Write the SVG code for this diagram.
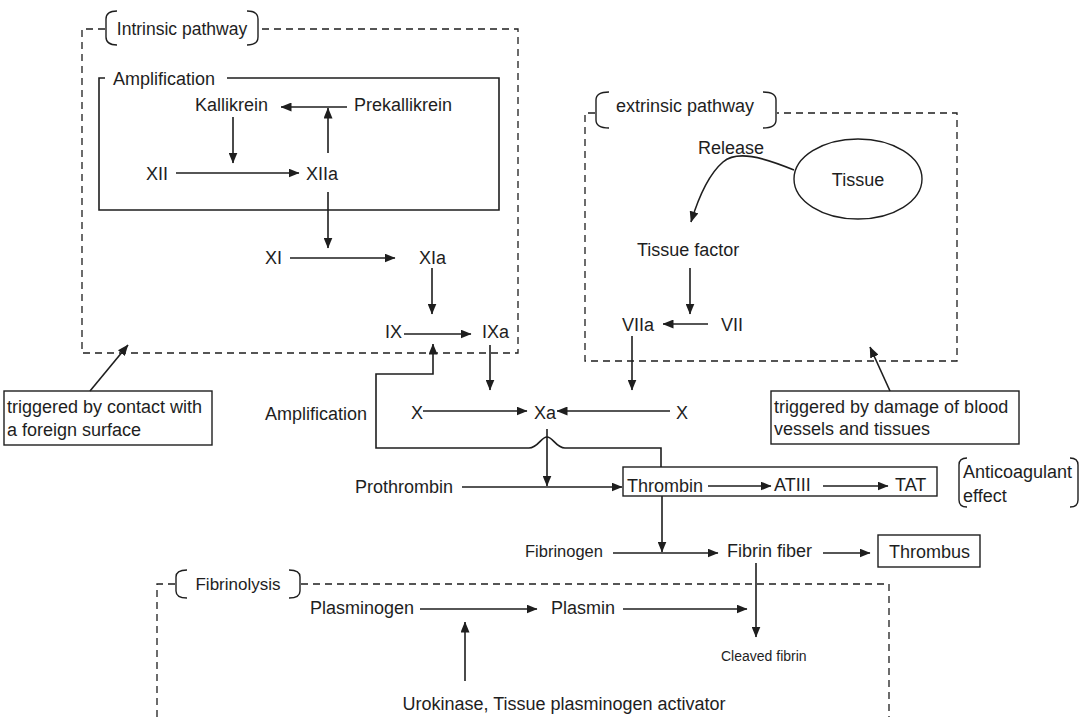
<svg xmlns="http://www.w3.org/2000/svg" width="1084" height="717" viewBox="0 0 1084 717">
  <defs>
    <marker id="ah" viewBox="0 0 11 9" refX="10.5" refY="4.5" markerWidth="11" markerHeight="9" orient="auto" markerUnits="userSpaceOnUse">
      <path d="M0,0 L11,4.5 L0,9 z" fill="#1e1e1e"/>
    </marker>
    <style>
      text { font-family: "Liberation Sans", Arial, Helvetica, sans-serif; font-size: 18px; fill: #1e1e1e; }
      .sm { font-size: 16.5px; }
      .xs { font-size: 14px; }
      .ln { fill: none; stroke: #1e1e1e; stroke-width: 1.6; }
      .ar { fill: none; stroke: #1e1e1e; stroke-width: 1.6; marker-end: url(#ah); }
      .dash { fill: none; stroke: #1e1e1e; stroke-width: 1.3; stroke-dasharray: 7 5; }
      .box { fill: #fff; stroke: #1e1e1e; stroke-width: 1.4; }
      .br { fill: none; stroke: #1e1e1e; stroke-width: 1.4; }
    </style>
  </defs>
  <rect width="1084" height="717" fill="#fff"/>

  <!-- Intrinsic pathway region -->
  <g id="intrinsic-region">
    <path class="dash" d="M105,29 L82,29 L82,353 L518,353 L518,29 L259,29"/>
    <path class="br" d="M117,11 Q106,11 106,19 L106,37 Q106,45 117,45"/>
    <path class="br" d="M247,11 Q258,11 258,19 L258,37 Q258,45 247,45"/>
    <text x="182" y="35" text-anchor="middle" style="font-size:17.5px">Intrinsic pathway</text>
  </g>

  <!-- Amplification loop box -->
  <g id="amplification-box">
    <path class="ln" d="M227,78 L499,78 L499,210 L99,210 L99,78 L105,78"/>
    <text x="113" y="85">Amplification</text>
  </g>

  <g id="kallikrein"><text x="195" y="111">Kallikrein</text></g>
  <g id="prekallikrein"><text x="354" y="111">Prekallikrein</text></g>
  <g id="xii"><text x="146" y="180">XII</text></g>
  <g id="xiia"><text x="306" y="180">XIIa</text></g>
  <g id="xi"><text x="265" y="264">XI</text></g>
  <g id="xia"><text x="419" y="264">XIa</text></g>
  <g id="ix"><text x="385" y="338">IX</text></g>
  <g id="ixa"><text x="482" y="338">IXa</text></g>

  <!-- Extrinsic pathway region -->
  <g id="extrinsic-region">
    <path class="dash" d="M595,113 L585,113 L585,361 L957,361 L957,113 L777,113"/>
    <path class="br" d="M609,92 Q596,92 596,100 L596,120 Q596,128 609,128"/>
    <path class="br" d="M763,92 Q776,92 776,100 L776,120 Q776,128 763,128"/>
    <text x="616" y="112">extrinsic pathway</text>
  </g>

  <g id="tissue">
    <ellipse cx="858" cy="179" rx="64" ry="40" fill="#fff" stroke="#1e1e1e" stroke-width="1.4"/>
    <text x="858" y="186" text-anchor="middle">Tissue</text>
  </g>
  <g id="release"><text x="698" y="154">Release</text></g>
  <g id="tissue-factor"><text x="637" y="256">Tissue factor</text></g>
  <g id="viia"><text x="622" y="331">VIIa</text></g>
  <g id="vii"><text x="721" y="331">VII</text></g>

  <!-- Trigger notes -->
  <g id="note-contact">
    <rect class="box" x="4" y="391" width="208" height="54"/>
    <text x="7" y="413">triggered by contact with</text>
    <text x="7" y="436">a foreign surface</text>
  </g>
  <g id="note-damage">
    <rect class="box" x="771" y="391" width="248" height="53"/>
    <text x="774" y="413">triggered by damage of blood</text>
    <text x="774" y="435">vessels and tissues</text>
  </g>

  <!-- Common pathway -->
  <g id="amplification-label"><text x="265" y="420">Amplification</text></g>
  <g id="x-left"><text x="411" y="419">X</text></g>
  <g id="xa"><text x="534" y="419">Xa</text></g>
  <g id="x-right"><text x="676" y="419">X</text></g>
  <g id="prothrombin"><text x="453" y="493" text-anchor="end">Prothrombin</text></g>

  <g id="thrombin-row">
    <rect class="box" x="623" y="467" width="314" height="29"/>
    <text x="627" y="492">Thrombin</text>
    <text x="774" y="491">ATIII</text>
    <text x="895" y="491">TAT</text>
  </g>

  <g id="anticoagulant">
    <path class="br" d="M967,458 Q959,458 959,465 L959,500 Q959,507 967,507"/>
    <path class="br" d="M1070,458 Q1078,458 1078,465 L1078,500 Q1078,507 1070,507"/>
    <text x="963" y="478">Anticoagulant</text>
    <text x="963" y="502">effect</text>
  </g>

  <g id="fibrinogen"><text class="sm" x="525" y="557">Fibrinogen</text></g>
  <g id="fibrin-fiber"><text x="727" y="557">Fibrin fiber</text></g>
  <g id="thrombus">
    <rect class="box" x="878" y="535" width="102" height="32"/>
    <text x="889" y="558">Thrombus</text>
  </g>

  <!-- Fibrinolysis region -->
  <g id="fibrinolysis-region">
    <path class="dash" d="M157,717 L157,584 L175,584 M301,584 L889,584 L889,717"/>
    <path class="br" d="M187,570 Q176,570 176,577 L176,591 Q176,598 187,598"/>
    <path class="br" d="M289,570 Q300,570 300,577 L300,591 Q300,598 289,598"/>
    <text x="238" y="590" text-anchor="middle" style="font-size:17px">Fibrinolysis</text>
  </g>
  <g id="plasminogen"><text x="310" y="614">Plasminogen</text></g>
  <g id="plasmin"><text x="551" y="614">Plasmin</text></g>
  <g id="cleaved-fibrin"><text class="xs" x="721" y="661">Cleaved fibrin</text></g>
  <g id="activators"><text x="564" y="710" text-anchor="middle">Urokinase, Tissue plasminogen activator</text></g>

  <!-- Connectors -->
  <g id="connectors">
    <!-- amplification loop -->
    <line class="ar" x1="347" y1="107" x2="281" y2="107"/>
    <line class="ar" x1="328" y1="153" x2="328" y2="108"/>
    <line class="ar" x1="233" y1="117" x2="233" y2="163"/>
    <line class="ar" x1="176" y1="173" x2="299" y2="173"/>
    <line class="ar" x1="328" y1="192" x2="328" y2="248"/>
    <!-- intrinsic cascade -->
    <line class="ar" x1="290" y1="258" x2="395" y2="258"/>
    <line class="ar" x1="432" y1="268" x2="432" y2="314"/>
    <line class="ar" x1="404" y1="334" x2="471" y2="334"/>
    <line class="ar" x1="490" y1="345" x2="490" y2="390"/>
    <!-- thrombin feedback to IX activation -->
    <path class="ar" d="M661,467 L661,448 L565,448 C556,448 553,437 547,437 C541,437 538,448 529,448 L376,448 L376,374 L433,374 L433,344"/>
    <!-- extrinsic cascade -->
    <path class="ar" d="M794,170 C762,157 737,150 723,162 C709,174 698,199 691,222"/>
    <line class="ar" x1="690" y1="268" x2="690" y2="314"/>
    <line class="ar" x1="708" y1="324" x2="663" y2="324"/>
    <line class="ar" x1="632" y1="336" x2="632" y2="390"/>
    <!-- X activation -->
    <line class="ar" x1="423" y1="411" x2="527" y2="411"/>
    <line class="ar" x1="670" y1="411" x2="557" y2="411"/>
    <line class="ar" x1="547" y1="429" x2="547" y2="486"/>
    <line class="ar" x1="462" y1="487" x2="622" y2="487"/>
    <!-- thrombin inhibition -->
    <line class="ar" x1="708" y1="486" x2="771" y2="486"/>
    <line class="ar" x1="823" y1="486" x2="888" y2="486"/>
    <!-- fibrin formation -->
    <line class="ar" x1="662" y1="496" x2="662" y2="552"/>
    <line class="ar" x1="613" y1="553" x2="718" y2="553"/>
    <line class="ar" x1="823" y1="553" x2="870" y2="553"/>
    <!-- fibrinolysis -->
    <line class="ar" x1="420" y1="609" x2="537" y2="609"/>
    <line class="ar" x1="623" y1="609" x2="747" y2="609"/>
    <line class="ar" x1="756" y1="563" x2="756" y2="637"/>
    <line class="ar" x1="465" y1="681" x2="465" y2="622"/>
    <!-- trigger notes -->
    <line class="ar" x1="90" y1="391" x2="128" y2="345"/>
    <line class="ar" x1="890" y1="391" x2="870" y2="347"/>
  </g>
</svg>
